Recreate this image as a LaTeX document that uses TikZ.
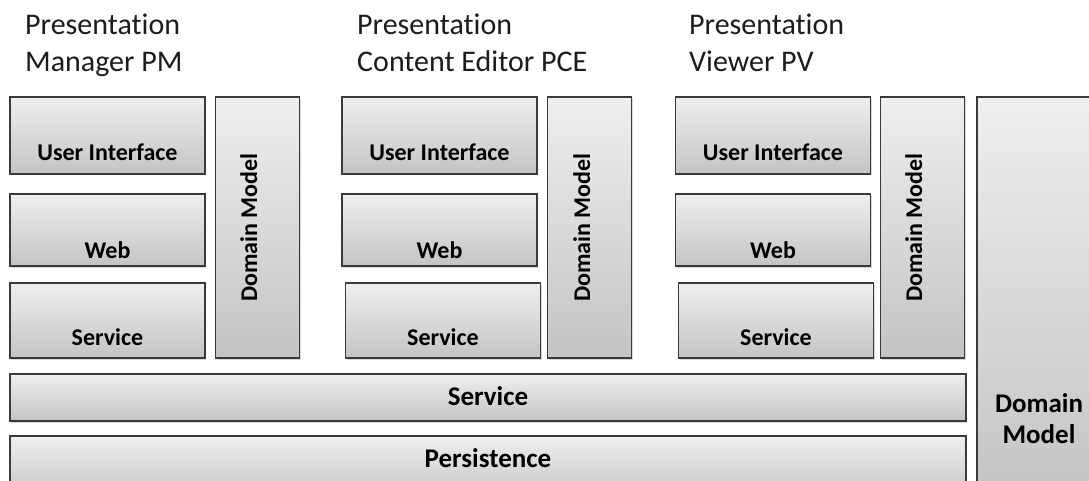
\documentclass[tikz,border=0pt]{standalone}
\usepackage{fontspec}
\setmainfont{Carlito}[Ligatures=NoCommon]
\usetikzlibrary{shadows}
\definecolor{edge}{HTML}{3A3A3A}
\definecolor{shadetop}{HTML}{EFEFEF}
\definecolor{shadebot}{HTML}{C4C4C4}
\definecolor{headtext}{HTML}{1C1C1C}
\tikzset{
  layer/.style={rectangle, draw=edge, line width=1.4pt, inner sep=0pt, outer sep=0pt,
    top color=shadetop, bottom color=shadebot,
    drop shadow={shadow xshift=1pt, shadow yshift=-1.5pt, opacity=.25, fill=black!60}},
  smallbox/.style={layer, minimum width=195pt, minimum height=#1},
  dmbox/.style={layer, minimum width=84pt, minimum height=261pt},
  boxlabel/.style={anchor=base, inner sep=0pt, font=\fontsize{24}{28}\selectfont\bfseries},
  dmlabel/.style={anchor=base, inner sep=0pt, rotate=90, font=\fontsize{24}{28}\selectfont\bfseries},
  barlabel/.style={anchor=base, inner sep=0pt, font=\fontsize{27}{31}\selectfont\bfseries},
  header/.style={anchor=base west, inner sep=0pt, text=headtext, font=\fontsize{30}{37}\selectfont}
}
\begin{document}
\begin{tikzpicture}[x=1pt, y=-1pt]
\useasboundingbox (0,0) rectangle (1089,481);
\clip (0,0) rectangle (1089,481);

% column headers
\node[header] (pmh1) at (25,35) {Presentation};
\node[header] (pmh2) at (25,72) {Manager PM};
\node[header] (pceh1) at (357,35) {Presentation};
\node[header] (pceh2) at (357,72) {Content Editor PCE};
\node[header] (pvh1) at (689,35) {Presentation};
\node[header] (pvh2) at (689,72) {Viewer PV};

% Presentation Manager stack
\node[smallbox=77pt] (pmui) at (107.5,135.5) {};
\node[smallbox=72pt] (pmweb) at (107.5,230) {};
\node[smallbox=75pt] (pmsvc) at (107.5,320.5) {};
\node[dmbox] (pmdm) at (257.5,227.5) {};
\node[boxlabel] (pmuit) at (107.5,161) {User Interface};
\node[boxlabel] (pmwebt) at (107.5,258) {Web};
\node[boxlabel] (pmsvct) at (107.5,345) {Service};
\node[dmlabel] (pmdmt) at (257,227.5) {Domain Model};

% Presentation Content Editor stack
\node[smallbox=77pt] (pceui) at (439.5,135.5) {};
\node[smallbox=72pt] (pceweb) at (439.5,230) {};
\node[smallbox=75pt] (pcesvc) at (443,320.5) {};
\node[dmbox] (pcedm) at (589.5,227.5) {};
\node[boxlabel] (pceuit) at (439.5,161) {User Interface};
\node[boxlabel] (pcewebt) at (439.5,258) {Web};
\node[boxlabel] (pcesvct) at (443,345) {Service};
\node[dmlabel] (pcedmt) at (590,227.5) {Domain Model};

% Presentation Viewer stack
\node[smallbox=77pt] (pvui) at (773,135.5) {};
\node[smallbox=72pt] (pvweb) at (773,230) {};
\node[smallbox=75pt] (pvsvc) at (776,320.5) {};
\node[dmbox] (pvdm) at (922.5,227.5) {};
\node[boxlabel] (pvuit) at (773,161) {User Interface};
\node[boxlabel] (pvwebt) at (773,258) {Web};
\node[boxlabel] (pvsvct) at (776,345) {Service};
\node[dmlabel] (pvdmt) at (922,227.5) {Domain Model};

% shared layers
\node[layer, minimum width=956pt, minimum height=47pt] (svc) at (488,397.5) {};
\node[barlabel] (svct) at (488,405) {Service};
\node[layer, minimum width=956pt, minimum height=64pt] (pers) at (488,468) {};
\node[barlabel] (perst) at (488,467) {Persistence};

% shared domain model
\node[layer, minimum width=124pt, minimum height=403pt] (dm) at (1039,298.5) {};
\node[barlabel] (dmt1) at (1039,412) {Domain};
\node[barlabel] (dmt2) at (1039,443) {Model};
\end{tikzpicture}
\end{document}
